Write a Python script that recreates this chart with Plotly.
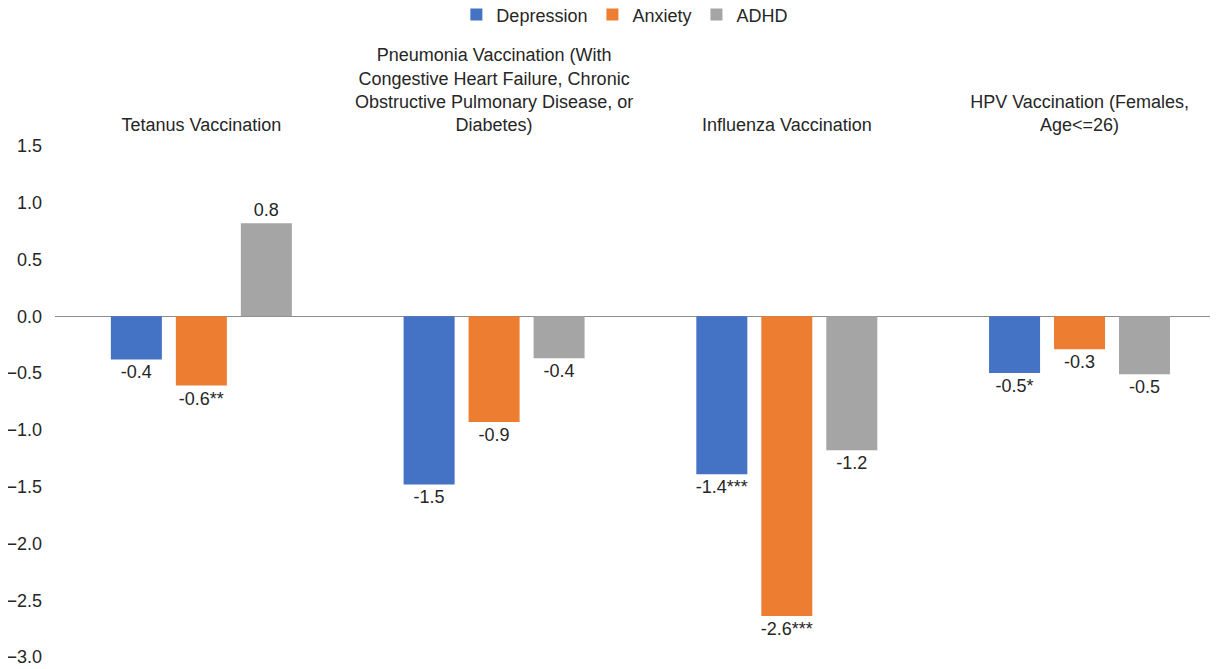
import plotly.graph_objects as go

# categories (wrapped as in the original chart)
categories = [
    "Tetanus Vaccination",
    "Pneumonia Vaccination (With<br>Congestive Heart Failure, Chronic<br>Obstructive Pulmonary Disease, or<br>Diabetes)",
    "Influenza Vaccination",
    "HPV Vaccination (Females,<br>Age<=26)",
]

depression = [-0.38, -1.48, -1.39, -0.50]
anxiety = [-0.61, -0.93, -2.64, -0.29]
adhd = [0.82, -0.37, -1.18, -0.51]

# significance markers appended to the data labels
depression_sig = ["", "", "***", "*"]
anxiety_sig = ["**", "", "***", ""]
adhd_sig = ["", "", "", ""]

y_ticks = [1.5, 1.0, 0.5, 0.0, -0.5, -1.0, -1.5, -2.0, -2.5, -3.0]

series = [
    ("Depression", depression, depression_sig, "#4472C4"),
    ("Anxiety", anxiety, anxiety_sig, "#ED7D31"),
    ("ADHD", adhd, adhd_sig, "#A5A5A5"),
]

FONT = "Liberation Sans, Arial, sans-serif"
TXT = "#262626"

fig = go.Figure()
for name, vals, sig, color in series:
    fig.add_trace(go.Bar(
        name=name,
        x=categories,
        y=vals,
        text=[f"{v:.1f}{s}" for v, s in zip(vals, sig)],
        textposition="outside",
        constraintext="none",
        cliponaxis=False,
        textfont=dict(family=FONT, size=18, color=TXT),
        # invisible outline: only pushes the labels a bit away from the bar ends
        marker=dict(color=color, line=dict(width=8, color="rgba(0,0,0,0)")),
    ))

# page body has an 8px margin, so the figure is sized to fit the window
fig.update_layout(
    width=1210,
    height=661,
    barmode="group",
    bargap=0.334,
    bargroupgap=0.215,
    hovermode=False,
    plot_bgcolor="white",
    paper_bgcolor="white",
    font=dict(family=FONT, size=18, color=TXT),
    margin=dict(l=47, r=0, t=138, b=12, autoexpand=False),
    legend=dict(
        orientation="h",
        x=0.49, xanchor="center",
        y=1.293, yanchor="top",
        font=dict(size=18),
        itemwidth=30,
    ),
    xaxis=dict(
        side="top",
        range=[-0.5, 3.473],
        automargin=False,
        showline=False,
        showgrid=False,
        ticks="",
        ticklabelstandoff=10,
        tickangle=0,
    ),
    yaxis=dict(
        range=[-3.0, 1.5],
        tickvals=y_ticks,
        tickformat=".1f",
        automargin=False,
        showgrid=False,
        showline=False,
        zeroline=True,
        zerolinecolor="#8C8C8C",
        zerolinewidth=1,
        ticks="",
        ticklabelstandoff=12,
    ),
)

fig.write_html("out.html")
